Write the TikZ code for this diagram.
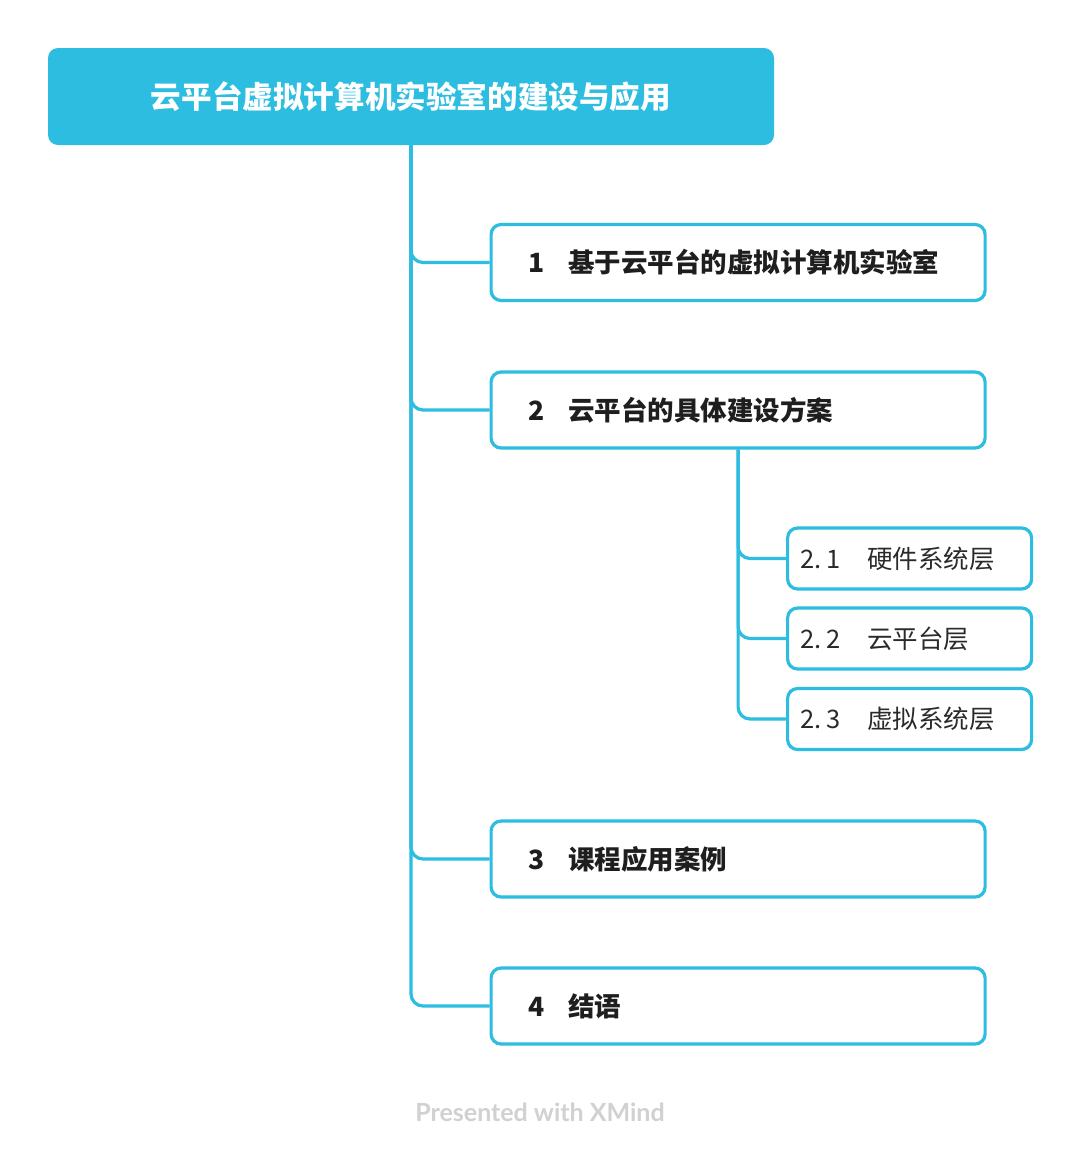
\documentclass[tikz,border=0pt]{standalone}
\usepackage{fontspec}
\newfontfamily\cjk{Noto Sans CJK SC}
\newfontfamily\footfont{Lato}
\definecolor{xcyan}{HTML}{2CBDE0}
\definecolor{xtext}{HTML}{1E1E1E}
\definecolor{xsub}{HTML}{2A2A2A}
\begin{document}
\begin{tikzpicture}[x=1pt,y=-1pt,
  lnk/.style={draw=xcyan, line width=3.2pt, rounded corners=12pt},
  topic/.style={draw=xcyan, line width=3.2pt, rounded corners=10pt, fill=white,
    minimum height=76pt, anchor=west, inner xsep=37pt, text width=420pt, align=left,
    text=xtext, font=\cjk\bfseries\fontsize{26.5}{30}\selectfont},
  subtopic/.style={draw=xcyan, line width=3.2pt, rounded corners=10pt, fill=white,
    minimum height=61pt, anchor=west, inner xsep=13pt, text width=218pt, align=left,
    text=xsub, font=\cjk\fontsize{25.5}{30}\selectfont},
  titlebox/.style={fill=xcyan, rounded corners=10pt, minimum width=726pt,
    minimum height=97pt, text=white, font=\cjk\bfseries\fontsize{30.6}{36}\selectfont}]
\useasboundingbox[fill=white] (0,0) rectangle (1080,1160);

\node[titlebox] (title) at (411,96.5) {云平台虚拟计算机实验室的建设与应用};

\node[topic] (b1) at (489.5,262.5) {1\hspace{24pt}基于云平台的虚拟计算机实验室};
\node[topic] (b2) at (489.5,410) {2\hspace{24pt}云平台的具体建设方案};
\node[topic] (b3) at (489.5,859) {3\hspace{24pt}课程应用案例};
\node[topic] (b4) at (489.5,1006) {4\hspace{24pt}结语};

\node[subtopic] (s1) at (786,558.5) {2.\,1\hspace{27pt}硬件系统层};
\node[subtopic] (s2) at (786,638.5) {2.\,2\hspace{27pt}云平台层};
\node[subtopic] (s3) at (786,719) {2.\,3\hspace{27pt}虚拟系统层};

\draw[lnk] (title.south) |- (b1.west);
\draw[lnk] (title.south) |- (b2.west);
\draw[lnk] (title.south) |- (b3.west);
\draw[lnk] (title.south) |- (b4.west);

\draw[lnk] (b2.south) |- (s1.west);
\draw[lnk] (b2.south) |- (s2.west);
\draw[lnk] (b2.south) |- (s3.west);

\node[text=black!18, font=\footfont\bfseries\fontsize{25}{28}\selectfont] (foot) at (540,1112) {Presented with XMind};
\end{tikzpicture}
\end{document}
